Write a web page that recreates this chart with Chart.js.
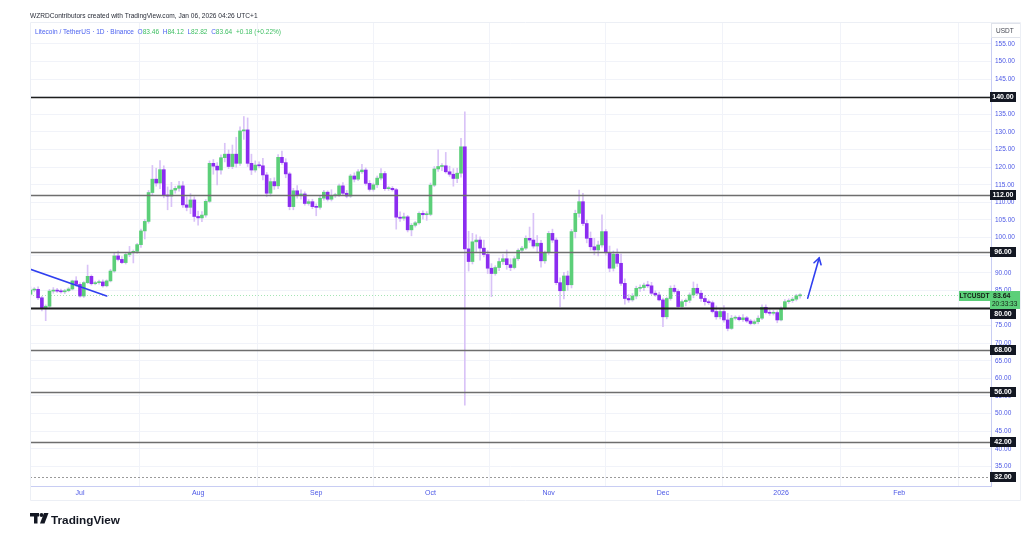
<!DOCTYPE html>
<html>
<head>
<meta charset="utf-8">
<script src="https://cdn.jsdelivr.net/npm/chart.js@4.4.1/dist/chart.umd.min.js"></script>
<style>
html,body{margin:0;padding:0;background:#ffffff;}
#wrap{width:1024px;height:534px;position:relative;overflow:hidden;}
</style>
</head>
<body>
<div id="wrap"><canvas id="c" width="1024" height="534"></canvas></div>
<script>
// ---------------- DATA ----------------
const dates = [
'2025-06-18','2025-06-19','2025-06-20','2025-06-21','2025-06-22','2025-06-23','2025-06-24','2025-06-25','2025-06-26','2025-06-27','2025-06-28','2025-06-29','2025-06-30',
'2025-07-01','2025-07-02','2025-07-03','2025-07-04','2025-07-05','2025-07-06','2025-07-07','2025-07-08','2025-07-09','2025-07-10','2025-07-11','2025-07-12','2025-07-13','2025-07-14','2025-07-15','2025-07-16','2025-07-17','2025-07-18','2025-07-19','2025-07-20','2025-07-21','2025-07-22','2025-07-23','2025-07-24','2025-07-25','2025-07-26','2025-07-27','2025-07-28','2025-07-29','2025-07-30','2025-07-31',
'2025-08-01','2025-08-02','2025-08-03','2025-08-04','2025-08-05','2025-08-06','2025-08-07','2025-08-08','2025-08-09','2025-08-10','2025-08-11','2025-08-12','2025-08-13','2025-08-14','2025-08-15','2025-08-16','2025-08-17','2025-08-18','2025-08-19','2025-08-20','2025-08-21','2025-08-22','2025-08-23','2025-08-24','2025-08-25','2025-08-26','2025-08-27','2025-08-28','2025-08-29','2025-08-30','2025-08-31',
'2025-09-01','2025-09-02','2025-09-03','2025-09-04','2025-09-05','2025-09-06','2025-09-07','2025-09-08','2025-09-09','2025-09-10','2025-09-11','2025-09-12','2025-09-13','2025-09-14','2025-09-15','2025-09-16','2025-09-17','2025-09-18','2025-09-19','2025-09-20','2025-09-21','2025-09-22','2025-09-23','2025-09-24','2025-09-25','2025-09-26','2025-09-27','2025-09-28','2025-09-29','2025-09-30',
'2025-10-01','2025-10-02','2025-10-03','2025-10-04','2025-10-05','2025-10-06','2025-10-07','2025-10-08','2025-10-09','2025-10-10','2025-10-11','2025-10-12','2025-10-13','2025-10-14','2025-10-15','2025-10-16','2025-10-17','2025-10-18','2025-10-19','2025-10-20','2025-10-21','2025-10-22','2025-10-23','2025-10-24','2025-10-25','2025-10-26','2025-10-27','2025-10-28','2025-10-29','2025-10-30','2025-10-31',
'2025-11-01','2025-11-02','2025-11-03','2025-11-04','2025-11-05','2025-11-06','2025-11-07','2025-11-08','2025-11-09','2025-11-10','2025-11-11','2025-11-12','2025-11-13','2025-11-14','2025-11-15','2025-11-16','2025-11-17','2025-11-18','2025-11-19','2025-11-20','2025-11-21','2025-11-22','2025-11-23','2025-11-24','2025-11-25','2025-11-26','2025-11-27','2025-11-28','2025-11-29','2025-11-30',
'2025-12-01','2025-12-02','2025-12-03','2025-12-04','2025-12-05','2025-12-06','2025-12-07','2025-12-08','2025-12-09','2025-12-10','2025-12-11','2025-12-12','2025-12-13','2025-12-14','2025-12-15','2025-12-16','2025-12-17','2025-12-18','2025-12-19','2025-12-20','2025-12-21','2025-12-22','2025-12-23','2025-12-24','2025-12-25','2025-12-26','2025-12-27','2025-12-28','2025-12-29','2025-12-30','2025-12-31',
'2026-01-01','2026-01-02','2026-01-03','2026-01-04','2026-01-05','2026-01-06'
];

const opens = [
83.9,85.1,85.3,82.9,80.1,80.5,84.8,85.0,84.8,84.6,84.9,85.4,87.7,
86.7,83.4,87.2,89.0,86.9,87.2,87.4,86.3,87.7,90.5,94.8,93.8,92.9,95.2,95.7,96.1,98.0,101.9,104.6,112.8,116.6,115.5,119.3,112.1,111.8,113.5,114.0,114.7,109.3,108.6,110.7,
106.0,105.6,106.4,110.3,121.1,120.3,119.2,122.7,123.7,120.2,123.7,121.1,130.3,130.6,121.1,119.2,120.6,120.4,117.8,112.6,115.9,114.7,122.8,121.3,118.1,108.8,113.3,111.9,112.4,109.7,110.2,
108.8,108.6,111.2,112.9,110.9,111.9,112.1,114.7,112.6,111.8,117.5,116.6,118.7,119.2,115.4,113.7,115.0,116.9,118.2,113.9,114.0,113.6,105.8,105.5,105.9,102.2,103.5,104.2,106.9,106.5,
106.6,114.9,119.5,120.2,120.4,118.7,118.0,116.8,118.3,125.8,96.8,93.2,98.8,99.3,97.0,95.2,91.3,89.8,91.5,93.2,94.0,92.3,91.5,94.0,96.4,97.0,99.8,99.3,97.6,98.4,93.4,
95.7,101.2,99.3,87.2,84.9,89.1,86.6,101.7,106.9,110.2,104.0,99.8,97.4,96.5,97.9,101.7,95.7,91.3,95.3,92.7,87.0,82.7,82.3,83.4,85.6,85.8,86.5,86.3,84.2,83.7,
82.3,77.5,82.7,85.6,84.7,80.4,81.8,82.2,83.7,85.6,84.2,82.7,81.8,81.5,79.0,77.5,79.0,76.6,74.2,77.1,77.3,76.7,77.2,76.3,75.6,76.1,77.1,80.2,78.7,78.5,78.7,
76.6,79.9,81.8,82.1,82.5,83.46
];

const highs = [
86.0,85.8,86.0,83.3,80.9,85.3,85.8,85.6,85.4,85.3,85.8,87.9,88.9,
87.2,87.5,92.2,89.4,87.6,87.9,88.0,88.0,91.0,95.7,96.2,94.6,95.6,97.5,96.5,98.4,102.4,105.2,113.4,120.5,119.7,121.9,120.4,114.4,115.7,114.6,116.0,115.9,111.6,112.5,111.6,
107.5,107.4,110.8,121.8,122.2,121.3,123.5,126.8,124.9,126.3,128.5,131.5,134.4,134.0,123.7,121.8,121.5,122.5,118.5,116.8,117.0,123.6,124.6,122.4,118.6,114.0,114.8,113.6,113.0,110.8,110.9,
109.6,111.8,113.4,113.3,113.6,112.6,115.2,115.6,113.4,118.0,118.4,119.3,120.8,119.8,116.2,115.5,117.5,119.6,118.8,114.6,114.5,114.0,107.3,107.0,106.3,104.0,104.6,107.3,107.6,107.4,
115.5,120.2,124.9,121.0,124.2,120.3,119.6,119.7,128.2,135.7,101.8,101.2,100.8,100.2,99.3,96.3,92.6,92.0,94.2,95.2,96.5,94.0,94.6,96.8,97.5,100.5,103.0,106.9,100.6,99.2,96.2,
101.8,102.4,99.9,88.6,90.1,90.5,102.3,107.8,113.5,112.6,105.0,101.6,99.8,99.0,106.5,102.3,97.6,96.2,96.8,95.3,88.3,83.8,84.1,86.2,86.6,87.1,87.6,87.3,84.9,84.5,
82.8,83.1,86.3,86.5,85.2,82.3,82.6,84.3,87.4,86.8,85.0,83.5,82.3,82.0,80.6,79.6,80.7,78.5,77.9,77.8,77.8,78.1,77.6,76.8,76.6,77.8,80.9,80.9,79.5,79.3,79.2,
80.3,82.4,82.6,83.0,83.9,84.12
];

const lows = [
83.4,84.6,82.4,79.2,76.4,79.8,84.2,84.4,84.2,84.1,84.6,85.1,86.1,
83.1,83.0,86.9,86.5,86.6,86.8,85.9,86.0,87.4,90.1,93.4,92.6,92.5,94.6,92.8,95.5,97.2,99.6,104.1,112.1,114.6,113.9,111.3,107.9,108.8,112.6,113.2,108.6,107.6,106.8,104.6,
103.5,104.5,105.8,109.9,118.0,115.0,118.0,121.5,119.6,119.6,120.0,120.5,127.9,120.2,117.9,118.6,119.8,116.4,111.6,111.8,113.7,113.9,120.8,117.0,107.9,107.9,111.2,110.9,109.2,109.2,108.2,
106.2,108.1,110.6,110.4,110.4,111.4,111.7,112.2,111.3,111.4,115.8,116.2,118.2,114.9,113.2,113.2,114.2,116.4,113.4,113.4,113.2,102.4,104.6,104.9,101.6,100.5,103.0,103.8,105.2,104.9,
106.2,114.5,118.8,119.0,118.3,117.4,114.6,115.6,117.2,52.4,90.5,92.5,96.0,93.6,94.5,89.8,83.2,89.3,90.6,92.4,91.0,90.6,91.1,93.5,95.9,96.6,98.6,97.0,96.0,91.6,92.7,
95.2,98.6,86.6,80.4,82.6,85.0,85.7,99.9,105.8,103.4,98.5,96.4,95.1,94.8,97.3,95.0,90.3,90.5,91.8,86.4,81.1,81.6,81.9,82.6,84.7,84.9,85.8,83.8,83.3,82.0,
74.7,76.9,82.2,84.2,80.0,79.8,80.6,81.5,82.9,83.6,81.9,80.8,81.0,78.6,76.8,76.9,76.0,73.5,73.9,76.6,76.3,76.2,75.9,75.2,75.3,75.5,76.7,78.3,77.9,78.0,75.8,
76.3,79.5,81.3,81.6,82.0,82.82
];

const closes = [
85.1,85.3,82.9,80.1,80.5,84.8,85.0,84.8,84.6,84.9,85.4,87.7,86.7,
83.4,87.2,89.0,86.9,87.2,87.4,86.3,87.7,90.5,94.8,93.8,92.9,95.2,95.7,96.1,98.0,101.9,104.6,112.8,116.6,115.5,119.3,112.1,111.8,113.5,114.0,114.7,109.3,108.6,110.7,106.0,
105.6,106.4,110.3,121.1,120.3,119.2,122.7,123.7,120.2,123.7,121.1,130.3,130.6,121.1,119.2,120.6,120.4,117.8,112.6,115.9,114.7,122.8,121.3,118.1,108.8,113.3,111.9,112.4,109.7,110.2,108.8,
108.6,111.2,112.9,110.9,111.9,112.1,114.7,112.6,111.8,117.5,116.6,118.7,119.2,115.4,113.7,115.0,116.9,118.2,113.9,114.0,113.6,105.8,105.5,105.9,102.2,103.5,104.2,106.9,106.5,106.6,
114.9,119.5,120.2,120.4,118.7,118.0,116.8,118.3,125.8,96.8,93.2,98.8,99.3,97.0,95.2,91.3,89.8,91.5,93.2,94.0,92.3,91.5,94.0,96.4,97.0,99.8,99.3,97.6,98.4,93.4,95.7,
101.2,99.3,87.2,84.9,89.1,86.6,101.7,106.9,110.2,104.0,99.8,97.4,96.5,97.9,101.7,95.7,91.3,95.3,92.7,87.0,82.7,82.3,83.4,85.6,85.8,86.5,86.3,84.2,83.7,82.3,
77.5,82.7,85.6,84.7,80.4,81.8,82.2,83.7,85.6,84.2,82.7,81.8,81.5,79.0,77.5,79.0,76.6,74.2,77.1,77.3,76.7,77.2,76.3,75.6,76.1,77.1,80.2,78.7,78.5,78.7,76.6,
79.9,81.8,82.1,82.5,83.46,83.64
];

const monthTickDates = ['2025-07-01','2025-08-01','2025-09-01','2025-10-01','2025-11-01','2025-12-01','2026-01-01','2026-02-01'];
const monthTickLabels = ['Jul','Aug','Sep','Oct','Nov','Dec','2026','Feb'];
const priceTicks = [35,40,45,50,55,60,65,70,75,80,85,90,95,100,105,110,115,120,125,130,135,140,145,150,155];

const levelValues = [140,112,96,80,68,56,42];
const dottedLevel = 32;
const lastPrice = 83.64;
const countdown = '20:33:33';
const symbolName = 'LTCUSDT';

// drawings (date, price)
const trendLineDates = ['2025-06-17','2025-07-08'];
const trendLinePrices = [91.4, 83.4];
const arrowDates = ['2026-01-08','2026-01-11'];
const arrowPrices = [82.8, 94.2];

const headerLine1 = 'WZRDContributors created with TradingView.com, Jan 06, 2026 04:26 UTC+1';
const headerTitle = 'Litecoin / TetherUS \u00b7 1D \u00b7 Binance';
const ohlcLabels = ['O','H','L','C'];
const ohlcValues = ['83.46','84.12','82.82','83.64'];
const changeText = '+0.18 (+0.22%)';

// ---------------- HELPERS ----------------
const DAY = 86400000;
const ORIGIN = Date.UTC(2025, 6, 1);
function dayOf(s){ const p = s.split('-').map(Number); return (Date.UTC(p[0], p[1]-1, p[2]) - ORIGIN) / DAY; }
const xs = dates.map(dayOf);
const isUp = closes.map((c, i) => c >= opens[i]);

const GREEN = '#5ccf79';
const PURPLE = '#8b2cf0';
const WICK = '#d9c3f7';
const AXIS_TXT = '#4c58e6';
const FONT = "'Liberation Sans', 'DejaVu Sans', sans-serif";

function fitSize(ctx, text, weight, targetW){
  ctx.font = weight + ' 10px ' + FONT;
  return 10 * targetW / ctx.measureText(text).width;
}

const overlay = {
  id: 'overlay',
  afterDatasetsDraw(chart){
    const {ctx, chartArea: ca, scales: {x, y}} = chart;
    ctx.save();
    ctx.beginPath();
    ctx.rect(ca.left, ca.top, ca.right - ca.left, ca.bottom - ca.top);
    ctx.clip();
    // current price dotted line
    const pp = Math.round(y.getPixelForValue(lastPrice)) + 0.5;
    ctx.setLineDash([1, 2]);
    ctx.strokeStyle = 'rgba(92,207,121,0.55)';
    ctx.lineWidth = 1;
    ctx.beginPath(); ctx.moveTo(ca.left, pp); ctx.lineTo(ca.right, pp); ctx.stroke();
    ctx.setLineDash([]);

    // horizontal levels
    const heavy = {140: ['#1e1e1e', 1.6], 80: ['#1e1e1e', 1.8]};
    levelValues.forEach(v => {
      const py = Math.round(y.getPixelForValue(v)) + 0.5;
      const st = heavy[v] || ['#6e6e6e', 1.4];
      ctx.strokeStyle = st[0]; ctx.lineWidth = st[1];
      ctx.beginPath(); ctx.moveTo(ca.left, py); ctx.lineTo(ca.right, py); ctx.stroke();
    });
    // dotted level
    const dp = Math.round(y.getPixelForValue(dottedLevel)) + 0.5;
    ctx.setLineDash([2, 2]); ctx.strokeStyle = '#9a9a9a'; ctx.lineWidth = 1;
    ctx.beginPath(); ctx.moveTo(ca.left, dp); ctx.lineTo(ca.right, dp); ctx.stroke();
    ctx.setLineDash([]);

    // trend line
    ctx.strokeStyle = '#2f3ff0'; ctx.lineWidth = 1.6; ctx.lineCap = 'round';
    ctx.beginPath();
    ctx.moveTo(x.getPixelForValue(dayOf(trendLineDates[0])), y.getPixelForValue(trendLinePrices[0]));
    ctx.lineTo(x.getPixelForValue(dayOf(trendLineDates[1])), y.getPixelForValue(trendLinePrices[1]));
    ctx.stroke();
    // arrow
    const ax0 = x.getPixelForValue(dayOf(arrowDates[0])), ay0 = y.getPixelForValue(arrowPrices[0]);
    const ax1 = x.getPixelForValue(dayOf(arrowDates[1])), ay1 = y.getPixelForValue(arrowPrices[1]);
    ctx.beginPath(); ctx.moveTo(ax0, ay0); ctx.lineTo(ax1, ay1); ctx.stroke();
    const ang = Math.atan2(ay1 - ay0, ax1 - ax0);
    const hl = 7;
    ctx.beginPath();
    ctx.moveTo(ax1 - hl * Math.cos(ang - 0.55), ay1 - hl * Math.sin(ang - 0.55));
    ctx.lineTo(ax1, ay1);
    ctx.lineTo(ax1 - hl * Math.cos(ang + 0.55), ay1 - hl * Math.sin(ang + 0.55));
    ctx.stroke();
    ctx.restore();
  },
  afterDraw(chart){
    const {ctx, chartArea: ca, scales: {x, y}} = chart;
    ctx.save();
    const bx = ca.right - 1, bw = 26;
    // current price box geometry
    const pp = Math.round(y.getPixelForValue(lastPrice));
    const pTop = pp - 4, pBot = pp + 14;
    // level label boxes on axis
    ctx.textAlign = 'center'; ctx.textBaseline = 'middle';
    const boxVals = levelValues.concat([dottedLevel]);
    boxVals.forEach(v => {
      const py = Math.round(y.getPixelForValue(v));
      let top = py - 5;
      if (top < pBot && top + 10 > pTop) top = pBot;
      ctx.fillStyle = '#131722';
      ctx.fillRect(bx, top, bw, 10);
      ctx.fillStyle = '#ffffff';
      ctx.font = 'bold 7px ' + FONT;
      ctx.fillText(v.toFixed(2), bx + bw / 2, top + 5.5);
    });
    // current price boxes
    ctx.fillStyle = GREEN;
    ctx.fillRect(ca.right - 32, pTop, 31, 10);
    ctx.fillRect(bx, pTop, 30, pBot - pTop);
    ctx.fillStyle = '#142016';
    ctx.font = 'bold 6.5px ' + FONT;
    ctx.fillText(symbolName, ca.right - 16.5, pp + 1);
    ctx.textAlign = 'left';
    ctx.font = 'bold 7px ' + FONT;
    ctx.fillText(lastPrice.toFixed(2), bx + 3, pp + 1);
    ctx.font = '6.5px ' + FONT;
    ctx.fillText(countdown, bx + 2, pp + 9);

    // USDT box
    ctx.strokeStyle = '#e0e3eb'; ctx.lineWidth = 1;
    ctx.strokeRect(ca.right + 0.5, 23.5, 29, 14);
    ctx.fillStyle = '#434651';
    ctx.font = '6.5px ' + FONT;
    ctx.textAlign = 'left';
    ctx.fillText('USDT', ca.right + 5, 31);

    // header texts
    ctx.textBaseline = 'alphabetic';
    ctx.fillStyle = '#2a2e39';
    let fs = fitSize(ctx, headerLine1, 'normal', 228);
    ctx.font = fs.toFixed(2) + 'px ' + FONT;
    ctx.fillText(headerLine1, 30, 17.5);

    // second line
    const parts = [[headerTitle + '  ', '#4d63f0']];
    ohlcLabels.forEach((l, i) => { parts.push([l, '#4d63f0']); parts.push([ohlcValues[i] + '  ', '#3fbf63']); });
    parts.push([changeText, '#3fbf63']);
    const full = parts.map(p => p[0]).join('');
    fs = fitSize(ctx, full, 'normal', 246);
    ctx.font = fs.toFixed(2) + 'px ' + FONT;
    let cx = 35;
    parts.forEach(p => { ctx.fillStyle = p[1]; ctx.fillText(p[0], cx, 33.5); cx += ctx.measureText(p[0]).width; });

    // TradingView logo
    ctx.fillStyle = '#131722';
    ctx.fillRect(30, 513, 9, 3.5);
    ctx.fillRect(34, 513, 3.5, 10.5);
    ctx.beginPath(); ctx.arc(41.5, 515, 2, 0, Math.PI * 2); ctx.fill();
    ctx.beginPath();
    ctx.moveTo(44, 513); ctx.lineTo(48.5, 513); ctx.lineTo(44.5, 523.5); ctx.lineTo(40, 523.5); ctx.closePath(); ctx.fill();
    fs = fitSize(ctx, 'TradingView', 'bold', 69);
    ctx.font = 'bold ' + fs.toFixed(2) + 'px ' + FONT;
    ctx.fillText('TradingView', 51, 523.5);

    // faint frame
    ctx.strokeStyle = '#eceff5'; ctx.lineWidth = 1;
    ctx.beginPath();
    ctx.moveTo(30.5, 22.5); ctx.lineTo(1020.5, 22.5); ctx.lineTo(1020.5, 500.5); ctx.lineTo(30.5, 500.5); ctx.closePath();
    ctx.stroke();
    ctx.restore();
  }
};

const ctx = document.getElementById('c').getContext('2d');
new Chart(ctx, {
  type: 'bar',
  data: {
    datasets: [
      {
        label: 'wick',
        data: xs.map((xv, i) => ({x: xv, y: [lows[i], highs[i]]})),
        backgroundColor: WICK,
        barThickness: 1,
        grouped: false,
        order: 2
      },
      {
        label: 'body',
        data: xs.map((xv, i) => ({x: xv, y: [opens[i], closes[i]]})),
        backgroundColor: isUp.map(u => u ? GREEN : PURPLE),
        barThickness: 3,
        minBarLength: 1,
        grouped: false,
        order: 1
      }
    ]
  },
  options: {
    responsive: false,
    animation: false,
    layout: {padding: {left: 30, top: 22, right: 0, bottom: 34}},
    plugins: {legend: {display: false}, tooltip: {enabled: false}},
    scales: {
      x: {
        type: 'linear',
        min: -13.12,
        max: 239.1,
        offset: false,
        afterBuildTicks: s => { s.ticks = monthTickDates.map(d => ({value: dayOf(d)})); },
        afterFit: s => { s.height = 14; },
        ticks: {
          autoSkip: false, maxRotation: 0, color: AXIS_TXT, padding: 3,
          font: {size: 7, family: FONT},
          callback: (v, i) => monthTickLabels[i]
        },
        grid: {color: '#f1f3f9', drawTicks: false},
        border: {color: '#c8cdf3'}
      },
      y: {
        position: 'right',
        min: 29.43,
        max: 161.25,
        afterBuildTicks: s => { s.ticks = priceTicks.map(v => ({value: v})); },
        afterFit: s => { s.width = 33; },
        ticks: {
          color: AXIS_TXT, padding: 4,
          font: {size: 6.5, family: FONT},
          callback: v => Number(v).toFixed(2)
        },
        grid: {color: '#f1f3f9', drawTicks: false},
        border: {color: '#c8cdf3'}
      }
    }
  },
  plugins: [overlay]
});
</script>
</body>
</html>
